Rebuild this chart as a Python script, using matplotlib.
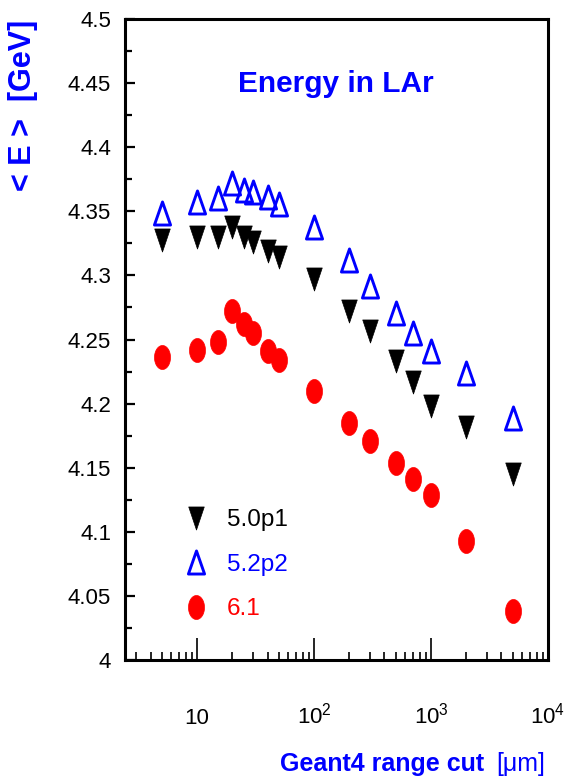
import numpy as np
import matplotlib
matplotlib.use('Agg')
import matplotlib.pyplot as plt
from matplotlib.path import Path
from matplotlib.markers import MarkerStyle
from matplotlib.ticker import FixedLocator, MultipleLocator, LogLocator, NullFormatter, FuncFormatter

# ---------------- data ----------------
range_cut_um = [5, 10, 15, 20, 25, 30, 40, 50, 100, 200, 300, 500, 700, 1000, 2000, 5000]
e_g4_5_0p1 = [4.328, 4.330, 4.330, 4.338, 4.330, 4.326, 4.319, 4.314, 4.297, 4.272,
              4.257, 4.233, 4.217, 4.198, 4.182, 4.145]
e_g4_5_2p2 = [4.349, 4.357, 4.360, 4.372, 4.367, 4.365, 4.361, 4.356, 4.338, 4.312,
              4.292, 4.271, 4.255, 4.241, 4.224, 4.189]
e_g4_6_1 = [4.236, 4.242, 4.248, 4.272, 4.262, 4.255, 4.241, 4.234, 4.210, 4.185,
            4.171, 4.154, 4.141, 4.129, 4.093, 4.038]
series_labels = ['5.0p1', '5.2p2', '6.1']
y_ticks = [4.0, 4.05, 4.1, 4.15, 4.2, 4.25, 4.3, 4.35, 4.4, 4.45, 4.5]
x_ticks = [10, 100, 1000, 10000]
x_tick_labels = ['10', r'$\mathregular{10^{2}}$', r'$\mathregular{10^{3}}$', r'$\mathregular{10^{4}}$']
title_text = 'Energy in LAr'
xlabel_main = 'Geant4 range cut'
xlabel_unit = '[\u03bcm]'
ylabel_text = '< E >  [GeV]'

# ---------------- style ----------------
FAM = ['Liberation Sans', 'DejaVu Sans']
plt.rcParams['font.family'] = FAM
BLUE = '#0000ff'
RED = '#ff0000'

W, H = 573, 780
fig = plt.figure(figsize=(W / 100, H / 100), dpi=100)
ax = fig.add_axes([125 / W, 1 - 660 / H, (548 - 125) / W, (660 - 19) / H])

# custom (vertically stretched) markers
t = np.linspace(0, 2 * np.pi, 65)
ellipse = MarkerStyle(Path(np.column_stack([0.667 * np.cos(t), np.sin(t)]), closed=True))
tri_down = MarkerStyle(Path([(-0.337, 0.5), (0.337, 0.5), (0, -0.5), (-0.337, 0.5)], closed=True),
                       joinstyle='miter')
tri_up = MarkerStyle(Path([(-0.35, -0.5), (0.35, -0.5), (0, 0.5), (-0.35, -0.5)], closed=True),
                     joinstyle='miter')

h1, = ax.plot(range_cut_um, e_g4_5_0p1, ls='none', marker=tri_down, ms=16.6,
              mfc='black', mec='black', mew=0.5, zorder=3, label=series_labels[0])
h2, = ax.plot(range_cut_um, e_g4_5_2p2, ls='none', marker=tri_up, ms=16.6,
              mfc='none', mec=BLUE, mew=2.1, zorder=4, label=series_labels[1])
h3, = ax.plot(range_cut_um, e_g4_6_1, ls='none', marker=ellipse, ms=17.3,
              mfc=RED, mec=RED, mew=0.5, zorder=5, label=series_labels[2])

ax.set_xscale('log')
ax.set_xlim(2.42, 1e4)
ax.set_ylim(4.0, 4.5)

ax.yaxis.set_major_locator(FixedLocator(y_ticks))
ax.yaxis.set_minor_locator(MultipleLocator(0.025))
ax.yaxis.set_major_formatter(FuncFormatter(lambda v, p: '%g' % round(v, 3)))

ax.xaxis.set_major_locator(FixedLocator(x_ticks))
ax.set_xticklabels(x_tick_labels)
ax.xaxis.set_minor_locator(LogLocator(base=10, subs=np.arange(2, 10)))
ax.xaxis.set_minor_formatter(NullFormatter())

for s in ax.spines.values():
    s.set_linewidth(2.2)

ax.tick_params(axis='both', which='both', direction='in', top=False, right=False)
ax.tick_params(axis='y', which='major', length=7.2, width=1.6, labelsize=16, pad=10)
ax.tick_params(axis='y', which='minor', length=5.0, width=1.6)
ax.tick_params(axis='x', which='major', length=16, width=1.2, labelsize=16, pad=46)
ax.tick_params(axis='x', which='minor', length=5.5, width=1.2)
for lbl in ax.get_xticklabels():
    lbl.set_verticalalignment('baseline')

# legend
leg = ax.legend(handles=[h1, h2, h3], labels=series_labels, loc='upper left',
                bbox_to_anchor=(184 / W, 1 - 509 / H), bbox_transform=fig.transFigure,
                frameon=False, handlelength=1.0, handletextpad=0.77, labelspacing=0.93,
                borderpad=0, borderaxespad=0, numpoints=1, prop={'size': 17.5})
for txt, col in zip(leg.get_texts(), ['black', BLUE, RED]):
    txt.set_color(col)

# texts
fig.text(336 / W, 1 - 92 / H, title_text, ha='center', va='baseline', fontsize=21.5,
         fontweight='bold', color=BLUE)
fig.text(484 / W, 1 - 771 / H, xlabel_main, ha='right', va='baseline', fontsize=18,
         fontweight='bold', color=BLUE)
fig.text(545 / W, 1 - 771 / H, xlabel_unit, ha='right', va='baseline', fontsize=18,
         color=BLUE)
fig.text(23 / W, 1 - 20 / H, ylabel_text, rotation=90, ha='center', va='top', fontsize=22,
         fontweight='bold', color=BLUE)

fig.savefig('out.png', dpi=100)
